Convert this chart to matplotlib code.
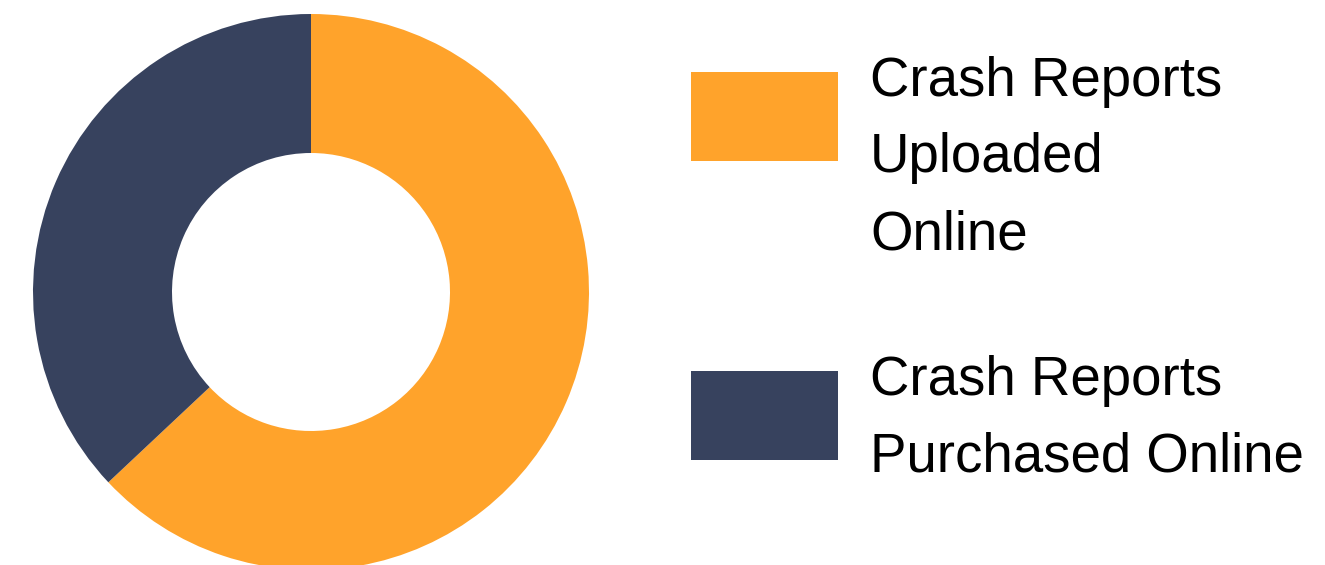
import matplotlib
matplotlib.use("Agg")
import matplotlib.pyplot as plt
from matplotlib.patches import Rectangle

# share of crash reports, in %
labels = [["Crash Reports", "Uploaded", "Online"],
          ["Crash Reports", "Purchased Online"]]
shares = [63, 37]
colors = ["#FFA32B", "#37425E"]

W, H = 1325, 565
fig = plt.figure(figsize=(W / 100, H / 100), dpi=100)

# donut, centred at (311, 292) px with an outer radius of 278 px
cx, cy, r = 311, 292, 278
ax = fig.add_axes([(cx - r) / W, (H - cy - r) / H, 2 * r / W, 2 * r / H])
ax.pie(shares, colors=colors, startangle=90, counterclock=False, radius=1,
       wedgeprops=dict(width=0.5, linewidth=0))
ax.set_xlim(-1, 1)
ax.set_ylim(-1, 1)
ax.set_aspect("equal")
ax.axis("off")

# legend drawn by hand: swatch + wrapped label lines
leg = fig.add_axes([0, 0, 1, 1])
leg.set_xlim(0, W)
leg.set_ylim(H, 0)
leg.axis("off")
swatch_top = [72, 371]
first_baseline = [96, 395]
for lines, col, top, base in zip(labels, colors, swatch_top, first_baseline):
    leg.add_patch(Rectangle((691, top), 147, 89, color=col, linewidth=0))
    for i, line in enumerate(lines):
        leg.text(870, base + 76.5 * i, line, fontsize=39.3, color="black",
                 family="Liberation Sans", va="baseline", ha="left")

fig.savefig("out.png", dpi=100)
